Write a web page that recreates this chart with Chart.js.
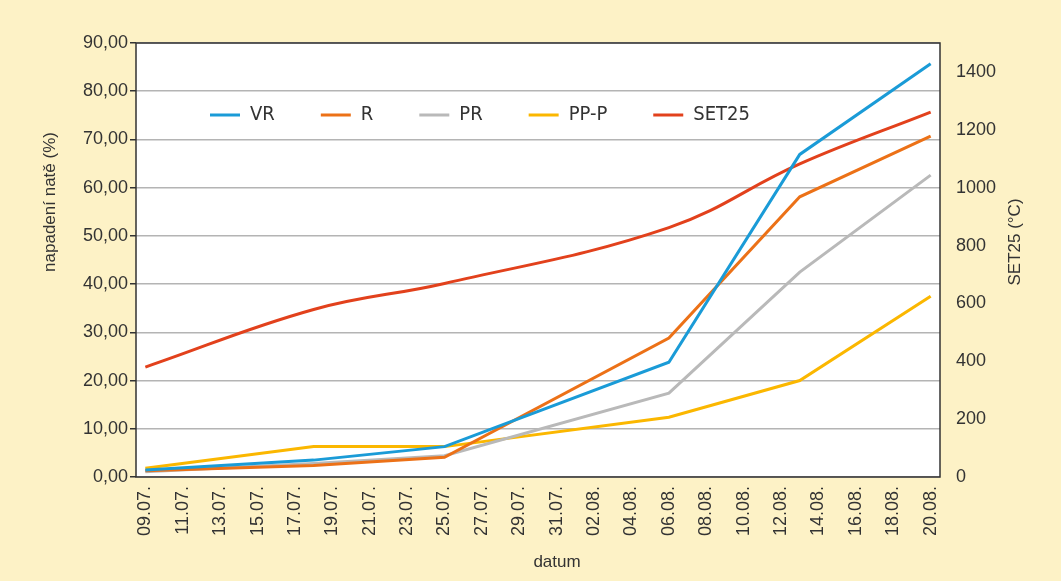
<!DOCTYPE html>
<html>
<head>
<meta charset="utf-8">
<script src="https://cdn.jsdelivr.net/npm/chart.js@4.4.0/dist/chart.umd.min.js"></script>
<style>
  html, body { margin: 0; padding: 0; background: #fdf2c6; }
</style>
</head>
<body>
<canvas id="myChart" width="1061" height="581"></canvas>
<script>
var dates = ["09.07.", "18.07.", "25.07.", "06.08.", "13.08.", "20.08."];
var vr    = [1.45, 3.5, 6.3, 23.8, 66.9, 85.7];
var r     = [1.3, 2.4, 4.1, 28.8, 58.1, 70.7];
var pr    = [1.1, 2.8, 4.4, 17.4, 42.5, 62.6];
var ppp   = [1.8, 6.3, 6.3, 12.4, 20.0, 37.5];
var set25 = [380, 579, 669, 862, 1082, 1261];

var tickLabels = ["09.07.", "11.07.", "13.07.", "15.07.", "17.07.", "19.07.", "21.07.", "23.07.",
                  "25.07.", "27.07.", "29.07.", "31.07.", "02.08.", "04.08.", "06.08.", "08.08.",
                  "10.08.", "12.08.", "14.08.", "16.08.", "18.08.", "20.08."];

var FONT = "'Liberation Sans', Arial, sans-serif";
var LEGEND_PAD = 46;

function dayIndex(label) {
  var p = label.split(".");
  return (Date.UTC(2000, p[1] - 1, +p[0]) - Date.UTC(2000, 6, 9)) / 86400000;
}

function points(values) {
  return dates.map(function(d, i) { return { x: dayIndex(d), y: values[i] }; });
}

function series(label, values, color, axis, tension) {
  return {
    label: label,
    data: points(values),
    borderColor: color,
    backgroundColor: color,
    borderWidth: 3,
    pointRadius: 0,
    tension: tension || 0,
    yAxisID: axis
  };
}

var frame = {
  id: 'frame',
  beforeLayout: function(chart) {
    // legend sits inside the plot, so it should not take room from it
    var lg = chart.legend;
    if (lg && !lg._noRoom) {
      var fit = lg.fit;
      lg.fit = function() { fit.call(this); this.height = 0; };
      lg._noRoom = true;
    }
  },
  afterLayout: function(chart) {
    var lg = chart.legend;
    lg.top = 115 - LEGEND_PAD - 10;
    lg.bottom = lg.top + 120;
    lg.left = 210 - LEGEND_PAD;
    lg.right = chart.width;
    lg.width = lg.right - lg.left;
    lg.height = lg.bottom - lg.top;
  },
  beforeDraw: function(chart) {
    var ctx = chart.ctx, a = chart.chartArea;
    ctx.save();
    ctx.fillStyle = '#fdf2c6';
    ctx.fillRect(0, 0, chart.width, chart.height);
    ctx.fillStyle = '#ffffff';
    ctx.fillRect(a.left, a.top, a.right - a.left, a.bottom - a.top);
    ctx.restore();
  },
  afterDraw: function(chart) {
    var ctx = chart.ctx, a = chart.chartArea;
    ctx.save();
    ctx.strokeStyle = '#333333';
    ctx.lineWidth = 1.5;
    ctx.strokeRect(a.left, a.top, a.right - a.left, a.bottom - a.top);

    ctx.fillStyle = '#333333';
    ctx.font = "17px " + FONT;
    ctx.textAlign = 'center';
    ctx.textBaseline = 'middle';
    ctx.fillText("datum", 557, 562);

    ctx.translate(50, 202);
    ctx.rotate(-Math.PI / 2);
    ctx.fillText("napadení natě (%)", 0, 0);
    ctx.setTransform(1, 0, 0, 1, 0, 0);

    ctx.translate(1015, 242);
    ctx.rotate(-Math.PI / 2);
    ctx.fillText("SET25 (°C)", 0, 0);
    ctx.restore();
  }
};

new Chart(document.getElementById("myChart"), {
  type: 'line',
  data: {
    datasets: [
      series("VR", vr, "#1a9bd7", 'y'),
      series("R", r, "#ec7117", 'y'),
      series("PR", pr, "#b9b9b9", 'y'),
      series("PP-P", ppp, "#fbb700", 'y'),
      series("SET25", set25, "#e2411c", 'y1', 0.4)
    ]
  },
  options: {
    responsive: false,
    animation: false,
    layout: { padding: { top: 43, left: 0, right: 0, bottom: 0 } },
    plugins: {
      tooltip: { enabled: false },
      legend: {
        position: 'top',
        align: 'start',
        labels: {
          padding: LEGEND_PAD,
          usePointStyle: true,
          pointStyle: 'line',
          pointStyleWidth: 30,
          color: '#333333',
          font: { family: "'DejaVu Sans Condensed', 'Liberation Sans Narrow', sans-serif", size: 20 }
        }
      }
    },
    scales: {
      x: {
        type: 'linear',
        min: -0.5,
        max: 42.5,
        afterBuildTicks: function(axis) {
          axis.ticks = tickLabels.map(function(t) { return { value: dayIndex(t) }; });
        },
        afterFit: function(axis) { axis.height = 104; },
        grid: { display: false },
        border: { display: false },
        ticks: {
          autoSkip: false,
          minRotation: 90,
          maxRotation: 90,
          padding: 1,
          color: '#333333',
          font: { family: FONT, size: 18 },
          callback: function(value, index) { return tickLabels[index]; }
        }
      },
      y: {
        position: 'left',
        min: 0,
        max: 90,
        afterFit: function(axis) { axis.width = 136; },
        border: { display: false },
        grid: { color: '#b4b4b4', lineWidth: 1.5, tickLength: 6, tickColor: '#333333' },
        ticks: {
          stepSize: 10,
          padding: 2,
          color: '#333333',
          font: { family: FONT, size: 18 },
          callback: function(value) { return value.toFixed(2).replace('.', ','); }
        }
      },
      y1: {
        position: 'right',
        min: 0,
        max: 1500,
        afterFit: function(axis) { axis.width = 121; },
        border: { display: false },
        grid: { drawOnChartArea: false, drawTicks: false },
        ticks: {
          stepSize: 200,
          padding: 16,
          color: '#333333',
          font: { family: FONT, size: 18 },
          callback: function(value) { return value <= 1400 ? value : ''; }
        }
      }
    }
  },
  plugins: [frame]
});
</script>
</body>
</html>
